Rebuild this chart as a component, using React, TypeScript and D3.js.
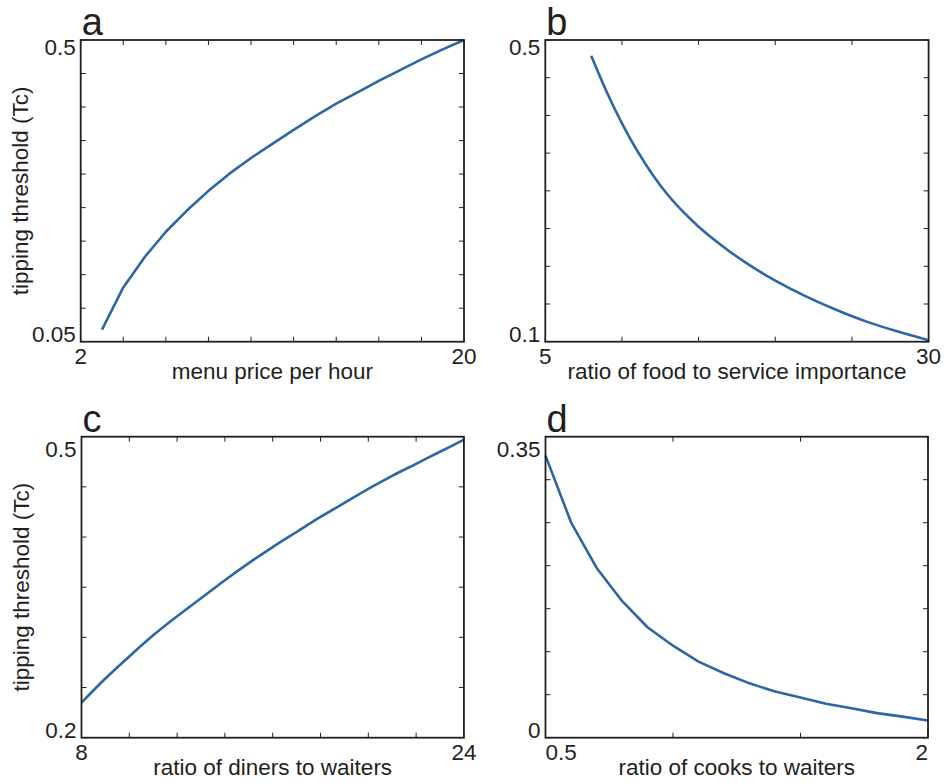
import React from "react";
import * as d3 from "d3";

// Panel a: menu price per hour vs tipping threshold
const aX = [3, 4, 5, 6, 7, 8, 9, 10, 11, 12, 13, 14, 15, 16, 17, 18, 19, 20];
const aY = [0.068, 0.131, 0.176, 0.214, 0.246, 0.275, 0.301, 0.324, 0.345, 0.366, 0.386, 0.405, 0.422, 0.439, 0.455, 0.471, 0.486, 0.5];

// Panel b: ratio of food to service importance
const bX = [8, 9, 10, 11, 12, 13, 14, 15, 16, 17, 18, 19, 20, 22, 24, 26, 28, 30];
const bY = [0.479, 0.4315, 0.3895, 0.353, 0.3215, 0.2945, 0.272, 0.2525, 0.2355, 0.22, 0.2058, 0.1928, 0.181, 0.16, 0.142, 0.1263, 0.1135, 0.102];

// Panel c: ratio of diners to waiters
const cX = [8, 9, 10, 11, 12, 13, 14, 15, 16, 17, 18, 19, 20, 21, 22, 23, 24];
const cY = [0.235, 0.259, 0.281, 0.302, 0.321, 0.339, 0.357, 0.374, 0.39, 0.405, 0.42, 0.434, 0.448, 0.461, 0.473, 0.485, 0.497];

// Panel d: ratio of cooks to waiters
const dX = [0.5, 0.6, 0.7, 0.8, 0.9, 1.0, 1.1, 1.2, 1.3, 1.4, 1.5, 1.6, 1.7, 1.8, 1.9, 2.0];
const dY = [0.328, 0.2505, 0.1977, 0.159, 0.1284, 0.107, 0.0884, 0.0749, 0.0632, 0.0537, 0.0468, 0.0395, 0.0343, 0.0286, 0.0245, 0.0199];

const panelLetters = ["a", "b", "c", "d"];
const xLabels = ["menu price per hour", "ratio of food to service importance", "ratio of diners to waiters", "ratio of cooks to waiters"];
const yLabel = "tipping threshold (Tc)";
const xDomains: [number, number][] = [[2, 20], [5, 30], [8, 24], [0.5, 2]];
const yDomains: [number, number][] = [[0.05, 0.5], [0.1, 0.5], [0.2, 0.5], [0, 0.35]];
const xTickSteps = [2, 5, 2, 0.5];
const yTickSteps = [0.05, 0.05, 0.05, 0.05];
const xTickLabels = [["2", "20"], ["5", "30"], ["8", "24"], ["0.5", "2"]];
const yTickLabels = [["0.05", "0.5"], ["0.1", "0.5"], ["0.2", "0.5"], ["0", "0.35"]];

const seriesX = [aX, bX, cX, dX];
const seriesY = [aY, bY, cY, dY];
const smooth = [false, true, true, false];

// layout
const boxes = [
  { l: 80.7, t: 40, r: 464, b: 341.7, topDy: 14.5, showY: true, xa0: "middle", xa1: "middle" },
  { l: 545.3, t: 40, r: 928.6, b: 341.7, topDy: 15, showY: false, xa0: "middle", xa1: "middle" },
  { l: 81.5, t: 436.7, r: 463.9, b: 737.7, topDy: 20, showY: true, xa0: "middle", xa1: "middle" },
  { l: 545.5, t: 436.7, r: 928, b: 737.7, topDy: 20, showY: false, xa0: "start", xa1: "end" },
];

const FONT = "'Liberation Sans', Arial, Helvetica, sans-serif";
const INK = "#231f20";
const LINE = "#2c66a3";
const TICK = 5;
const FS = 22.5;

function Panel({ i }: { i: number }) {
  const bx = boxes[i];
  const x = d3.scaleLinear().domain(xDomains[i]).range([bx.l, bx.r]);
  const y = d3.scaleLinear().domain(yDomains[i]).range([bx.b, bx.t]);
  const xt = d3.range(xDomains[i][0], xDomains[i][1] + 1e-9, xTickSteps[i]);
  const yt = d3.range(yDomains[i][0], yDomains[i][1] + 1e-9, yTickSteps[i]);
  const pts: [number, number][] = seriesX[i].map((v, k) => [v, seriesY[i][k]]);
  const line = d3
    .line<[number, number]>()
    .x((d) => x(d[0]))
    .y((d) => y(d[1]))
    .curve(smooth[i] ? d3.curveMonotoneX : d3.curveLinear);
  const cx = (bx.l + bx.r) / 2;
  const cy = (bx.t + bx.b) / 2;
  return (
    <g>
      <text x={bx.l + 1} y={bx.t - 5} fontSize={38} fontFamily={FONT} fill={INK}>
        {panelLetters[i]}
      </text>
      {xt.map((v, k) => (
        <g key={"xt" + k}>
          <line x1={x(v)} x2={x(v)} y1={bx.b} y2={bx.b - TICK} stroke={INK} strokeWidth={1} />
          <line x1={x(v)} x2={x(v)} y1={bx.t} y2={bx.t + TICK} stroke={INK} strokeWidth={1} />
        </g>
      ))}
      {yt.map((v, k) => (
        <g key={"yt" + k}>
          <line x1={bx.l} x2={bx.l + TICK} y1={y(v)} y2={y(v)} stroke={INK} strokeWidth={1} />
          <line x1={bx.r} x2={bx.r - TICK} y1={y(v)} y2={y(v)} stroke={INK} strokeWidth={1} />
        </g>
      ))}
      <path d={line(pts) || ""} fill="none" stroke={LINE} strokeWidth={2.6} strokeLinejoin="round" />
      <rect x={bx.l} y={bx.t} width={bx.r - bx.l} height={bx.b - bx.t} fill="none" stroke={INK} strokeWidth={1.8} />
      <text x={x(xDomains[i][0])} y={bx.b + 22} fontSize={FS} fontFamily={FONT} fill={INK} textAnchor={bx.xa0}>
        {xTickLabels[i][0]}
      </text>
      <text x={x(xDomains[i][1])} y={bx.b + 22} fontSize={FS} fontFamily={FONT} fill={INK} textAnchor={bx.xa1}>
        {xTickLabels[i][1]}
      </text>
      <text x={bx.l - 5} y={bx.b} fontSize={FS} fontFamily={FONT} fill={INK} textAnchor="end">
        {yTickLabels[i][0]}
      </text>
      <text x={bx.l - 5} y={bx.t + bx.topDy} fontSize={FS} fontFamily={FONT} fill={INK} textAnchor="end">
        {yTickLabels[i][1]}
      </text>
      <text x={cx} y={bx.b + 37} fontSize={FS} fontFamily={FONT} fill={INK} textAnchor="middle">
        {xLabels[i]}
      </text>
      {bx.showY && (
        <text
          transform={`translate(${bx.l - 53},${cy}) rotate(-90)`}
          fontSize={FS}
          fontFamily={FONT}
          fill={INK}
          textAnchor="middle"
        >
          {yLabel}
        </text>
      )}
    </g>
  );
}

export default function App() {
  return (
    <svg
      width={945}
      height={784}
      viewBox="0 0 945 784"
      style={{ position: "absolute", left: 0, top: 0, background: "#fff" }}
    >
      <rect x={0} y={0} width={945} height={784} fill="#fff" />
      {[0, 1, 2, 3].map((i) => (
        <Panel key={i} i={i} />
      ))}
    </svg>
  );
}
